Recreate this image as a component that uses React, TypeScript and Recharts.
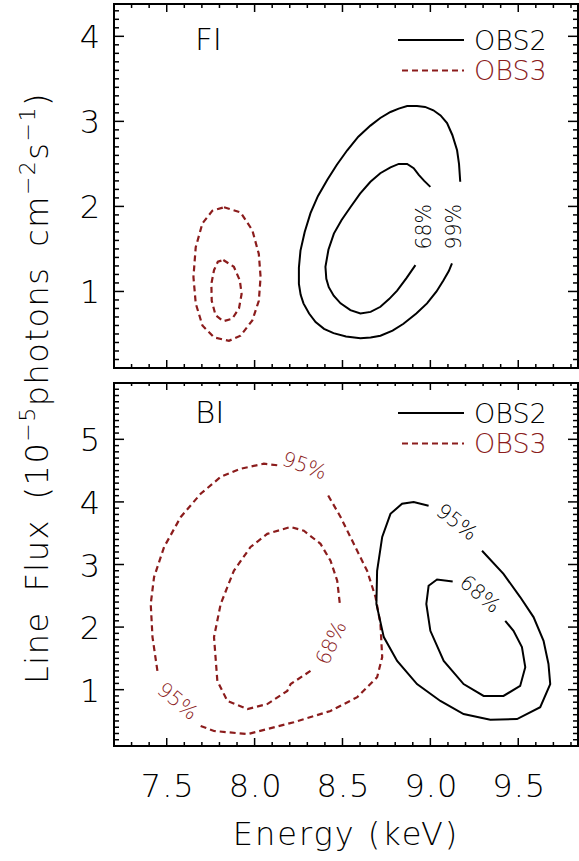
import React from 'react';
import { ScatterChart, Scatter, XAxis, YAxis, ReferenceArea, Legend, Label } from 'recharts';

// --- Colours & fonts ---
const OBS2_COLOR = '#000000';
const OBS3_COLOR = '#8B1C1C';
const FONT = '"DejaVu Sans", "Liberation Sans", sans-serif';
const WEIGHT = 200;

// --- Axis ranges & ticks ---
const X_DOMAIN: [number, number] = [7.2, 9.84];
const FI_Y_DOMAIN: [number, number] = [0.1, 4.38];
const BI_Y_DOMAIN: [number, number] = [0.1, 5.9];
const X_TICK_LABELS = [7.5, 8.0, 8.5, 9.0, 9.5];
const FI_Y_TICK_LABELS = [1, 2, 3, 4];
const BI_Y_TICK_LABELS = [1, 2, 3, 4, 5];

const steps = (from: number, to: number) => {
    const out: number[] = [];
    for (let v = Math.round(from * 10); v <= Math.round(to * 10); v++) out.push(v / 10);
    return out;
};
const X_TICKS = steps(7.3, 9.8);
const FI_Y_TICKS = steps(0.2, 4.3);
const BI_Y_TICKS = steps(0.2, 5.8);

// --- FI contours (energy keV, flux 1e-5 ph/cm2/s) ---
const FI_OBS2_99 = [
    [9.17, 2.29], [9.163, 2.5], [9.152, 2.66], [9.125, 2.84], [9.095, 2.98], [9.058, 3.07],
    [9.017, 3.13], [8.97, 3.17], [8.924, 3.18], [8.868, 3.18], [8.82, 3.15], [8.773, 3.11],
    [8.715, 3.04], [8.659, 2.95], [8.59, 2.82], [8.527, 2.66], [8.468, 2.49], [8.413, 2.31],
    [8.36, 2.12], [8.318, 1.92], [8.285, 1.7], [8.261, 1.48], [8.252, 1.28], [8.252, 1.09],
    [8.262, 0.96], [8.278, 0.86], [8.31, 0.74], [8.347, 0.64], [8.395, 0.56], [8.449, 0.51],
    [8.52, 0.47], [8.602, 0.45], [8.66, 0.46], [8.716, 0.48], [8.785, 0.54], [8.847, 0.62],
    [8.92, 0.74], [8.981, 0.86], [9.035, 1.0], [9.074, 1.13], [9.105, 1.24], [9.123, 1.33],
];
const FI_OBS2_68 = [
    [9.0, 2.23], [8.965, 2.3], [8.934, 2.37], [8.905, 2.45], [8.868, 2.5], [8.82, 2.5],
    [8.773, 2.46], [8.715, 2.39], [8.659, 2.29], [8.6, 2.15], [8.545, 1.99], [8.495, 1.84],
    [8.451, 1.68], [8.42, 1.49], [8.403, 1.29], [8.408, 1.15], [8.422, 1.05], [8.45, 0.95],
    [8.489, 0.86], [8.545, 0.78], [8.602, 0.74], [8.66, 0.76], [8.716, 0.82], [8.765, 0.91],
    [8.811, 1.01], [8.865, 1.16], [8.915, 1.31],
];
const FI_OBS3_OUTER = [
    [7.826, 1.99], [7.92, 1.93], [7.987, 1.72], [8.024, 1.44], [8.034, 1.17], [8.024, 0.89],
    [7.987, 0.66], [7.92, 0.48], [7.854, 0.42], [7.769, 0.46], [7.703, 0.6], [7.665, 0.86],
    [7.652, 1.17], [7.665, 1.52], [7.703, 1.8], [7.76, 1.95], [7.826, 1.99],
];
const FI_OBS3_INNER = [
    [7.822, 1.37], [7.882, 1.29], [7.916, 1.13], [7.926, 0.97], [7.911, 0.8], [7.873, 0.68],
    [7.822, 0.65], [7.778, 0.72], [7.756, 0.89], [7.754, 1.09], [7.769, 1.25], [7.791, 1.35],
    [7.822, 1.37],
];
const FI_LEVEL_TAGS = [
    { x: 8.962, y: 1.76, text: '68%', angle: -90, color: OBS2_COLOR },
    { x: 9.136, y: 1.76, text: '99%', angle: -90, color: OBS2_COLOR },
];

// --- BI contours ---
const BI_OBS2_95 = [
    [8.99, 3.94], [8.905, 4.0], [8.839, 3.97], [8.773, 3.81], [8.726, 3.44], [8.697, 2.9],
    [8.693, 2.37], [8.735, 1.84], [8.811, 1.46], [8.924, 1.09], [9.057, 0.82], [9.189, 0.61],
    [9.341, 0.52], [9.493, 0.53], [9.625, 0.72], [9.682, 1.09], [9.672, 1.41], [9.644, 1.78],
    [9.587, 2.16], [9.511, 2.48], [9.416, 2.85], [9.294, 3.22],
];
const BI_OBS2_68 = [
    [9.127, 2.73], [9.038, 2.76], [8.99, 2.66], [8.977, 2.37], [9.0, 1.94], [9.076, 1.46],
    [9.189, 1.09], [9.303, 0.9], [9.416, 0.9], [9.511, 1.06], [9.54, 1.36], [9.521, 1.68],
    [9.473, 1.94], [9.426, 2.1],
];
const BI_OBS3_95 = [
    [7.693, 0.42], [7.769, 0.34], [7.959, 0.29], [8.223, 0.48], [8.432, 0.66], [8.584, 0.88],
    [8.697, 1.2], [8.726, 1.52], [8.716, 2.05], [8.688, 2.48], [8.64, 2.9], [8.564, 3.33],
    [8.489, 3.76], [8.413, 4.13],
];
const BI_OBS3_95_LEFT = [
    [7.447, 1.3], [7.419, 1.84], [7.409, 2.37], [7.428, 2.8], [7.485, 3.28], [7.58, 3.76],
    [7.693, 4.13], [7.807, 4.4], [7.92, 4.53], [8.053, 4.61], [8.148, 4.58],
];
const BI_OBS3_68 = [
    [8.318, 1.3], [8.205, 1.09], [8.186, 0.98], [8.072, 0.77], [7.959, 0.69], [7.845, 0.82],
    [7.788, 1.14], [7.769, 1.84], [7.807, 2.37], [7.882, 2.9], [7.977, 3.28], [8.072, 3.49],
    [8.205, 3.6], [8.28, 3.54], [8.375, 3.33], [8.432, 3.06], [8.47, 2.74], [8.485, 2.37],
];
const BI_LEVEL_TAGS = [
    { x: 9.152, y: 3.68, text: '95%', angle: 38, color: OBS2_COLOR },
    { x: 9.284, y: 2.53, text: '68%', angle: 40, color: OBS2_COLOR },
    { x: 8.284, y: 4.58, text: '95%', angle: 20, color: OBS3_COLOR },
    { x: 7.5625, y: 0.82, text: '95%', angle: 40, color: OBS3_COLOR },
    { x: 8.435, y: 1.75, text: '68%', angle: -65, color: OBS3_COLOR },
];

// --- Layout ---
const W = 579;
const PLOT_LEFT = 114;
const PLOT_W = W - PLOT_LEFT - 1;
const FI_H = 372;
const BI_TOP = 379;
const BI_H = 482;
const PLOT_H = 364;

const toPts = (a: number[][]) => a.map(([x, y]) => ({ x, y }));

const isMultiple = (v: number, step: number) => Math.abs(v / step - Math.round(v / step)) < 1e-6;

// inward ticks on bottom and top edges
const makeXTick = (withLabels: boolean) => (props: any) => {
    const { x, y, payload } = props;
    const v = payload.value as number;
    const major = X_TICK_LABELS.some((t) => Math.abs(t - v) < 1e-6);
    const len = major ? 8 : 4;
    return (
        <g>
            <line x1={x} y1={y} x2={x} y2={y - len} stroke="#000" strokeWidth={1.5} />
            <line x1={x} y1={y - PLOT_H} x2={x} y2={y - PLOT_H + len} stroke="#000" strokeWidth={1.5} />
            {withLabels && major && (
                <text x={x + 1} y={y + 51} textAnchor="middle" fontFamily={FONT} fontWeight={WEIGHT} fontSize={32} letterSpacing={1} fill="#000">
                    {v.toFixed(1)}
                </text>
            )}
        </g>
    );
};

// inward ticks on left and right edges
const makeYTick = (labels: number[]) => (props: any) => {
    const { x, y, payload } = props;
    const v = payload.value as number;
    const major = isMultiple(v, 1);
    const len = major ? 10 : 5;
    return (
        <g>
            <line x1={x} y1={y} x2={x + len} y2={y} stroke="#000" strokeWidth={1.5} />
            <line x1={x + PLOT_W} y1={y} x2={x + PLOT_W - len} y2={y} stroke="#000" strokeWidth={1.5} />
            {major && labels.includes(Math.round(v)) && (
                <text x={x - 14} y={y + 12} textAnchor="end" fontFamily={FONT} fontWeight={WEIGHT} fontSize={32} fill="#000">
                    {Math.round(v)}
                </text>
            )}
        </g>
    );
};

const LevelTag = (props: any) => {
    const { cx, cy, payload } = props;
    return (
        <text
            x={cx}
            y={cy}
            transform={`rotate(${payload.angle} ${cx} ${cy})`}
            textAnchor="middle"
            dominantBaseline="central"
            fontFamily={FONT}
            fontWeight={WEIGHT}
            fontSize={20.5}
            fill={payload.color}
        >
            {payload.text}
        </text>
    );
};

const NoDot = () => <g />;

const PanelKey = ({ title, y0 }: { title: string; y0: number }) => (
    <svg width={W} height={100} style={{ overflow: 'visible', display: 'block' }}>
        <text x={195} y={y0 + 10} fontFamily={FONT} fontWeight={WEIGHT} fontSize={31} fill="#000">{title}</text>
        <line x1={398} y1={y0} x2={464} y2={y0} stroke={OBS2_COLOR} strokeWidth={2} />
        <text x={474} y={y0 + 10} fontFamily={FONT} fontWeight={WEIGHT} fontSize={27} fill={OBS2_COLOR}>OBS2</text>
        <line x1={402} y1={y0 + 30.5} x2={464} y2={y0 + 30.5} stroke={OBS3_COLOR} strokeWidth={2} strokeDasharray="6 4" />
        <text x={474} y={y0 + 40} fontFamily={FONT} fontWeight={WEIGHT} fontSize={27} fill={OBS3_COLOR}>OBS3</text>
    </svg>
);

const solid = { stroke: OBS2_COLOR, strokeWidth: 2 };
const dashed = { stroke: OBS3_COLOR, strokeWidth: 2.2, strokeDasharray: '6 4' };

function Panel(props: {
    height: number;
    bottom: number;
    yDomain: [number, number];
    yTicks: number[];
    yLabels: number[];
    xLabels: boolean;
    title: string;
    keyY: number;
    obs2: number[][][];
    obs3: number[][][];
    tags: typeof BI_LEVEL_TAGS;
}) {
    const { height, bottom, yDomain, yTicks, yLabels, xLabels, title, keyY, obs2, obs3, tags } = props;
    return (
        <ScatterChart width={W} height={height} margin={{ top: 4, right: 1, bottom: 0, left: 0 }}>
            <XAxis
                type="number"
                dataKey="x"
                domain={X_DOMAIN}
                allowDataOverflow
                ticks={X_TICKS}
                interval={0}
                tickSize={0}
                tickMargin={0}
                tickLine={false}
                axisLine={false}
                height={bottom}
                tick={makeXTick(xLabels)}
            >
                {xLabels && (
                    <Label
                        value="Energy (keV)"
                        position="insideBottom"
                        offset={16}
                        style={{ fontFamily: FONT, fontWeight: WEIGHT, fontSize: 32, letterSpacing: 2, fill: '#000' }}
                    />
                )}
            </XAxis>
            <YAxis
                type="number"
                dataKey="y"
                domain={yDomain}
                allowDataOverflow
                ticks={yTicks}
                interval={0}
                tickSize={0}
                tickMargin={0}
                tickLine={false}
                axisLine={false}
                width={PLOT_LEFT}
                tick={makeYTick(yLabels)}
            />
            <ReferenceArea x1={X_DOMAIN[0]} x2={X_DOMAIN[1]} y1={yDomain[0]} y2={yDomain[1]} fill="none" stroke="#000" strokeWidth={2} />
            {obs3.map((c, i) => (
                <Scatter key={`o3-${i}`} data={toPts(c)} line={dashed} shape={NoDot} fill={OBS3_COLOR} isAnimationActive={false} />
            ))}
            {obs2.map((c, i) => (
                <Scatter key={`o2-${i}`} data={toPts(c)} line={solid} shape={NoDot} fill={OBS2_COLOR} isAnimationActive={false} />
            ))}
            <Scatter data={tags} shape={LevelTag} isAnimationActive={false} />
            <Legend
                verticalAlign="middle"
                layout="horizontal"
                wrapperStyle={{ left: 0, top: 0, width: W, height: 100 }}
                content={() => <PanelKey title={title} y0={keyY} />}
            />
        </ScatterChart>
    );
}

export default function App() {
    return (
        <div style={{ position: 'absolute', left: 0, top: 0, width: W, height: 861, background: '#fff' }}>
            <div style={{ position: 'absolute', left: 0, top: 0 }}>
                <Panel
                    height={FI_H}
                    bottom={4}
                    yDomain={FI_Y_DOMAIN}
                    yTicks={FI_Y_TICKS}
                    yLabels={FI_Y_TICK_LABELS}
                    xLabels={false}
                    title="FI"
                    keyY={40}
                    obs2={[FI_OBS2_99, FI_OBS2_68]}
                    obs3={[FI_OBS3_OUTER, FI_OBS3_INNER]}
                    tags={FI_LEVEL_TAGS}
                />
            </div>
            <div style={{ position: 'absolute', left: 0, top: BI_TOP }}>
                <Panel
                    height={BI_H}
                    bottom={115}
                    yDomain={BI_Y_DOMAIN}
                    yTicks={BI_Y_TICKS}
                    yLabels={BI_Y_TICK_LABELS}
                    xLabels
                    title="BI"
                    keyY={34}
                    obs2={[BI_OBS2_95, BI_OBS2_68]}
                    obs3={[BI_OBS3_95, BI_OBS3_95_LEFT, BI_OBS3_68]}
                    tags={BI_LEVEL_TAGS}
                />
            </div>
            {/* shared flux axis title */}
            <svg width={W} height={861} style={{ position: 'absolute', left: 0, top: 0, pointerEvents: 'none' }}>
                <text
                    transform="translate(48 388) rotate(-90)"
                    textAnchor="middle"
                    fontFamily={FONT}
                    fontWeight={WEIGHT}
                    fontSize={32}
                    letterSpacing={1.5}
                    wordSpacing={8}
                    fill="#000"
                >
                    Line Flux (10
                    <tspan dy={-13} fontSize={22}>−5</tspan>
                    <tspan dy={13}>photons cm</tspan>
                    <tspan dy={-13} fontSize={22}>−2</tspan>
                    <tspan dy={13}>s</tspan>
                    <tspan dy={-13} fontSize={22}>−1</tspan>
                    <tspan dy={13}>)</tspan>
                </text>
            </svg>
        </div>
    );
}
